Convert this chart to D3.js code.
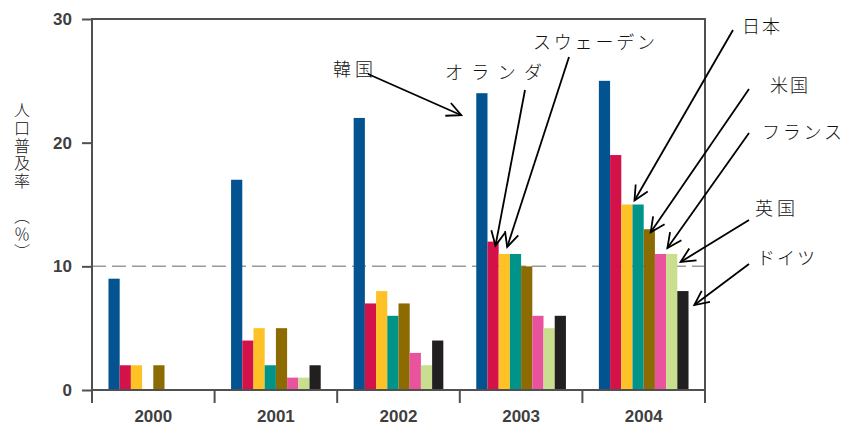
<!DOCTYPE html>
<html>
<head>
<meta charset="utf-8">
<script src="https://cdn.jsdelivr.net/npm/d3@7"></script>
<style>
  body { margin: 0; background: #fff; }
  svg { display: block; }
</style>
</head>
<body>
<div id="chart"></div>
<script>
// chart data
var years = ["2000", "2001", "2002", "2003", "2004"];
var countries = ["韓国", "オランダ", "スウェーデン", "日本", "米国", "フランス", "英国", "ドイツ"];
var colors = ["#02538f", "#d3124a", "#fec227", "#009389", "#8c6b03", "#e9529d", "#c9df8f", "#221f20"];
// one array per country, values per year (%)
var korea = [9, 17, 22, 24, 25];
var netherlands = [2, 4, 7, 12, 19];
var sweden = [2, 5, 8, 11, 15];
var japan = [0, 2, 6, 11, 15];
var usa = [2, 5, 7, 10, 13];
var france = [0, 1, 3, 6, 11];
var uk = [0, 1, 2, 5, 11];
var germany = [0, 2, 4, 6, 8];
var seriesValues = [korea, netherlands, sweden, japan, usa, france, uk, germany];
var yTicks = [0, 10, 20, 30];
var yTitle = ["人口普及率", "　", "（％）"];

// annotation layout: label position, line start, tip offset from the bar's top-left
var notes = [
  { c: 0, year: "2003", tx: 333, ty: 76, len: 40, sx: 368, sy: 74, dx: -15, dy: 22 },
  { c: 1, year: "2003", tx: 445, ty: 79, len: 97, sx: 525, sy: 90, dx: 8, dy: 4 },
  { c: 2, year: "2003", tx: 533, ty: 49, len: 122, sx: 569, sy: 57, dx: 8.5, dy: -7 },
  { c: 3, year: "2004", tx: 742, ty: 33, len: 38, sx: 733, sy: 30, dx: 2, dy: -4 },
  { c: 4, year: "2004", tx: 770, ty: 92, len: 38, sx: 749, sy: 89, dx: 7, dy: 3 },
  { c: 5, year: "2004", tx: 762, ty: 139, len: 80, sx: 749, sy: 133, dx: 12.5, dy: -6 },
  { c: 6, year: "2004", tx: 755, ty: 215, len: 40, sx: 749, sy: 220, dx: 14.5, dy: 8 },
  { c: 7, year: "2004", tx: 757, ty: 265, len: 58, sx: 749, sy: 264, dx: 17, dy: 14 }
];

var width = 850, height = 426;
var plotLeft = 92, plotRight = 705, plotTop = 19, plotBottom = 390;
var axisColor = "#505050";

var svg = d3.select("#chart").append("svg")
  .attr("width", width)
  .attr("height", height);

var x0 = d3.scaleBand().domain(years).range([plotLeft, plotRight]).padding(0);
var x1 = d3.scaleBand().domain(d3.range(countries.length))
  .range([0, x0.bandwidth()]).paddingInner(0).paddingOuter(1.47);
var y = d3.scaleLinear().domain([0, 30]).range([plotBottom, plotTop]);

/** Dashed line at 10% */
svg.append("line")
  .attr("x1", plotLeft).attr("x2", plotRight)
  .attr("y1", y(10)).attr("y2", y(10))
  .attr("stroke", "#9a9a9a")
  .attr("stroke-width", 1.5)
  .attr("stroke-dasharray", "14,6");

/** Bars */
var rows = [];
years.forEach(function(yr, i) {
  seriesValues.forEach(function(vals, c) {
    if (vals[i] > 0) rows.push({ year: yr, c: c, v: vals[i] });
  });
});
svg.append("g").selectAll("rect")
  .data(rows)
  .enter().append("rect")
  .attr("x", function(d) { return x0(d.year) + x1(d.c); })
  .attr("y", function(d) { return y(d.v); })
  .attr("width", x1.bandwidth())
  .attr("height", function(d) { return y(0) - y(d.v); })
  .attr("fill", function(d) { return colors[d.c]; });

/** Left axis */
var yAxis = svg.append("g")
  .attr("transform", "translate(" + plotLeft + ",0)")
  .call(d3.axisLeft(y).tickValues(yTicks).tickSize(10).tickSizeOuter(0).tickPadding(10));
yAxis.select(".domain").remove();
yAxis.selectAll("line").attr("stroke", axisColor).attr("stroke-width", 2);
yAxis.selectAll("text")
  .attr("fill", "#3f3f3f")
  .style("font-family", "'Liberation Sans', Arial, sans-serif")
  .style("font-size", "17px")
  .style("font-weight", "bold");

/** Frame lines */
var frame = svg.append("g").attr("stroke", axisColor).attr("stroke-width", 2);
frame.append("line").attr("x1", plotLeft).attr("x2", plotLeft).attr("y1", y(30)).attr("y2", plotBottom + 13);
frame.append("line").attr("x1", plotLeft - 1).attr("x2", plotRight + 1).attr("y1", y(30)).attr("y2", y(30));
frame.append("line").attr("x1", plotRight).attr("x2", plotRight).attr("y1", y(30)).attr("y2", plotBottom + 13);
frame.append("line").attr("x1", plotLeft).attr("x2", plotRight).attr("y1", plotBottom).attr("y2", plotBottom);
frame.selectAll(".sep")
  .data(years.slice(1))
  .enter().append("line")
  .attr("x1", function(d) { return x0(d); })
  .attr("x2", function(d) { return x0(d); })
  .attr("y1", plotBottom)
  .attr("y2", plotBottom + 13);

/** Bottom axis labels */
var xAxis = svg.append("g")
  .attr("transform", "translate(0," + plotBottom + ")")
  .call(d3.axisBottom(x0).tickSize(0).tickPadding(20));
xAxis.select(".domain").remove();
xAxis.selectAll("text")
  .attr("fill", "#3f3f3f")
  .style("font-family", "'Liberation Sans', Arial, sans-serif")
  .style("font-size", "17px")
  .style("font-weight", "bold");

/** Y title, vertical writing (wider gap before the parenthesis) */
var title = svg.append("text")
  .attr("x", 22)
  .attr("y", 102)
  .style("writing-mode", "vertical-rl")
  .style("text-orientation", "mixed")
  .style("letter-spacing", "1.8px")
  .style("font-family", "'Noto Sans CJK JP', sans-serif")
  .style("font-weight", 300)
  .style("font-size", "16px")
  .attr("fill", "#111");
title.selectAll("tspan")
  .data(yTitle)
  .enter().append("tspan")
  .style("letter-spacing", function(d, i) { return i === 1 ? "9px" : null; })
  .text(function(d) { return d; });

/** Annotations with arrows */
var ann = svg.append("g");
notes.forEach(function(n) {
  var i = years.indexOf(n.year);
  var tipX = x0(n.year) + x1(n.c) + n.dx;
  var tipY = y(seriesValues[n.c][i]) + n.dy;
  ann.append("text")
    .attr("x", n.tx).attr("y", n.ty)
    .attr("textLength", n.len)
    .attr("lengthAdjust", "spacing")
    .style("font-family", "'Noto Sans CJK JP', sans-serif")
    .style("font-weight", 300)
    .style("font-size", "18px")
    .attr("fill", "#111")
    .text(countries[n.c]);
  ann.append("line")
    .attr("x1", n.sx).attr("y1", n.sy)
    .attr("x2", tipX).attr("y2", tipY)
    .attr("stroke", "#000").attr("stroke-width", 1.8);
  var a = Math.atan2(tipY - n.sy, tipX - n.sx);
  var head = 16, spread = 0.45;
  var p1 = [tipX - head * Math.cos(a - spread), tipY - head * Math.sin(a - spread)];
  var p2 = [tipX - head * Math.cos(a + spread), tipY - head * Math.sin(a + spread)];
  ann.append("path")
    .attr("d", "M" + p1 + "L" + tipX + "," + tipY + "L" + p2)
    .attr("fill", "none")
    .attr("stroke", "#000").attr("stroke-width", 1.8);
});
</script>
</body>
</html>
